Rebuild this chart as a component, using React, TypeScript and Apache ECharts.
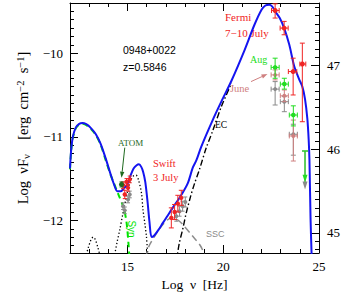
import React, { useEffect, useRef } from "react";
import * as echarts from "echarts";

// ---- axis ticks ----
const xTickLabels = [15, 20, 25];
const xMajorTicks = [15, 20];
const xMinorTicks = [13, 14, 16, 17, 18, 19, 21, 22, 23, 24];
const yLeftMajor = [-12, -11, -10];
const yRightMajor = [45, 46, 47];
const X_MIN = 12, X_MAX = 25;
const Y_MIN = -12.39, Y_MAX = -9.40;
const LUM_OFFSET = 57.15;

// ---- model curves [log nu, log nuFnu] ----
const totalModel = [
  [12.0, -11.38], [12.06, -11.16], [12.15, -11.0], [12.3, -10.89], [12.48, -10.845], [12.65, -10.835],
  [12.85, -10.85], [13.07, -10.89], [13.35, -10.97], [13.59, -11.08], [13.85, -11.25], [14.11, -11.44], [14.3, -11.57],
  [14.47, -11.65], [14.65, -11.65], [14.85, -11.61], [14.99, -11.57], [15.15, -11.47], [15.32, -11.38],
  [15.48, -11.34], [15.6, -11.33], [15.72, -11.36], [15.82, -11.42], [15.93, -11.54], [16.05, -11.78],
  [16.15, -12.02], [16.26, -12.2], [16.4, -12.18], [16.6, -12.12], [16.85, -12.03], [17.05, -11.96],
  [17.36, -11.85], [17.72, -11.73], [18.14, -11.56], [18.41, -11.37], [18.6, -11.28], [18.85, -11.12],
  [19.45, -10.8], [19.9, -10.58], [20.43, -10.33], [21.12, -9.96], [21.63, -9.66], [22.0, -9.48],
  [22.2, -9.43], [22.4, -9.42], [22.55, -9.44], [22.71, -9.5], [22.95, -9.58], [23.18, -9.7],
  [23.45, -9.9], [23.7, -10.15], [23.96, -10.31], [24.13, -10.4], [24.27, -10.55], [24.39, -10.78],
  [24.46, -11.03], [24.5, -11.27], [24.56, -11.99], [24.62, -12.45],
];
const synModel = [
  [12.0, -11.39], [12.06, -11.17], [12.15, -11.01], [12.3, -10.9], [12.48, -10.855], [12.65, -10.845],
  [12.85, -10.86], [13.07, -10.9], [13.35, -10.98], [13.59, -11.09], [13.85, -11.27], [14.11, -11.45], [14.3, -11.56],
  [14.51, -11.68], [14.8, -11.85], [14.95, -12.02], [15.06, -12.3], [15.12, -12.5],
];
const torusModel = [
  [12.8, -12.45], [12.95, -12.33], [13.1, -12.23], [13.21, -12.2], [13.32, -12.23], [13.45, -12.32], [13.6, -12.45],
];
const diskModel = [
  [14.3, -12.45], [14.45, -12.27], [14.6, -12.11], [14.77, -11.91], [14.95, -11.71], [15.12, -11.55],
  [15.3, -11.47], [15.45, -11.46], [15.58, -11.52], [15.73, -11.67], [15.81, -11.87], [15.92, -12.06],
  [15.99, -12.19], [16.07, -12.45],
];
const sscModel = [
  [15.95, -12.45], [16.1, -12.32], [16.42, -12.19], [16.85, -12.05], [17.29, -11.97], [17.6, -11.99],
  [17.89, -12.05], [18.41, -12.19], [18.8, -12.3], [19.05, -12.42],
];
const ecModel = [
  [17.55, -12.5], [17.7, -12.28], [17.89, -12.1], [18.07, -11.91], [18.3, -11.71], [18.5, -11.56],
  [18.76, -11.39], [19.1, -11.14], [19.45, -10.93], [19.9, -10.64], [20.43, -10.36],
];

// ---- data points: [x, y, xLo, xHi, yLo, yHi] ----
const fermiJuly = [
  [22.71, -9.49, 22.52, 22.92, -9.58, -9.41],
  [23.18, -9.7, 22.97, 23.39, -9.78, -9.62],
  [23.65, -10.22, 23.4, 23.84, -10.5, -10.06],
  [24.13, -10.13, 24.0, 24.31, -10.82, -9.88],
];
const fermiAug = [
  [22.71, -10.17, 22.5, 22.92, -10.3, -10.06],
  [23.19, -10.37, 22.98, 23.4, -10.43, -10.3],
  [23.66, -10.74, 23.45, 23.87, -10.87, -10.63],
];
const fermiJune = [
  [22.71, -10.26, 22.5, 22.92, -10.32, -10.2],
  [23.19, -10.51, 22.98, 23.4, -10.58, -10.44],
  [23.66, -10.99, 23.45, 23.87, -11.29, -10.8],
];
const fermiGrey = [
  [22.71, -10.43, 22.5, 22.92, -10.62, -10.34],
  [23.19, -10.58, 22.98, 23.4, -10.7, -10.52],
  [23.66, -10.97, 23.45, 23.87, -11.22, -10.85],
];
const uvotJuly = [
  [14.77, -11.58, 14.77, 14.77, -11.62, -11.54],
  [14.95, -11.54, 14.95, 14.95, -11.58, -11.5],
  [15.12, -11.51, 15.12, 15.12, -11.55, -11.47],
  [14.86, -11.69, 14.86, 14.86, -11.74, -11.64],
  [15.03, -11.61, 15.03, 15.03, -11.65, -11.57],
];
const uvotGrey = [
  [15.12, -11.69, 15.12, 15.12, -11.73, -11.65],
  [15.03, -11.75, 15.03, 15.03, -11.79, -11.71],
  [14.77, -11.83, 14.77, 14.77, -11.87, -11.79],
  [14.86, -11.88, 14.86, 14.86, -11.92, -11.84],
];
const atomPoint = [[14.69, -11.57, 14.69, 14.69, -11.6, -11.54]];
const xrtJuly = [
  [17.29, -11.97, 17.29, 17.29, -12.09, -11.85],
  [17.46, -11.9, 17.46, 17.46, -11.99, -11.81],
  [17.63, -11.8, 17.63, 17.63, -11.9, -11.7],
  [17.81, -11.73, 17.81, 17.81, -11.82, -11.64],
];
const xrtGrey = [
  [17.55, -11.95, 17.55, 17.55, -12.01, -11.89],
  [17.72, -11.89, 17.72, 17.72, -11.95, -11.83],
  [17.88, -11.83, 17.88, 17.88, -11.89, -11.77],
  [18.02, -11.78, 18.02, 18.02, -11.84, -11.72],
];
// upper limits: [x, yTop, yArrowTip]
const augUpper = [[24.27, -11.17, -11.55]];
const greyUpper = [[24.27, -11.17, -11.63]];
// annotation arrows: [x1, y1, x2, y2]
const atomArrow = [[14.86, -11.13, 14.69, -11.49]];
const juneArrow = [[21.45, -10.34, 22.31, -10.25]];

const RED = "#f02424";
const GREEN = "#22dd22";
const PINK = "#cf8080";
const GREY = "#8a8a8a";
const DKGREEN = "#1f6a1f";
const SERIF = "'Liberation Serif', 'DejaVu Serif', serif";
const SANS = "'Liberation Sans', Arial, sans-serif";
const NB = "\u00a0";

function errSeries(name: string, data: number[][], color: string, r: number, cap: number, z: number) {
  return {
    type: "custom",
    name,
    z,
    data,
    dimensions: ["x", "y", "xl", "xh", "yl", "yh"],
    encode: { x: 0, y: 1 },
    renderItem: (_p: any, api: any) => {
      const x = api.value(0), y = api.value(1);
      const c = api.coord([x, y]);
      const pl = api.coord([api.value(2), y]);
      const ph = api.coord([api.value(3), y]);
      const pb = api.coord([x, api.value(4)]);
      const pt = api.coord([x, api.value(5)]);
      const st = { stroke: color, lineWidth: 1 };
      const ch: any[] = [];
      if (Math.abs(ph[0] - pl[0]) > 0.5) {
        ch.push({ type: "line", shape: { x1: pl[0], y1: c[1], x2: ph[0], y2: c[1] }, style: st });
        ch.push({ type: "line", shape: { x1: pl[0], y1: c[1] - cap, x2: pl[0], y2: c[1] + cap }, style: st });
        ch.push({ type: "line", shape: { x1: ph[0], y1: c[1] - cap, x2: ph[0], y2: c[1] + cap }, style: st });
      }
      if (Math.abs(pb[1] - pt[1]) > 0.5) {
        ch.push({ type: "line", shape: { x1: c[0], y1: pt[1], x2: c[0], y2: pb[1] }, style: st });
        ch.push({ type: "line", shape: { x1: c[0] - cap, y1: pt[1], x2: c[0] + cap, y2: pt[1] }, style: st });
        ch.push({ type: "line", shape: { x1: c[0] - cap, y1: pb[1], x2: c[0] + cap, y2: pb[1] }, style: st });
      }
      ch.push({ type: "circle", shape: { cx: c[0], cy: c[1], r }, style: { fill: color } });
      return { type: "group", children: ch };
    },
  };
}

function upperSeries(name: string, data: number[][], color: string, z: number) {
  return {
    type: "custom",
    name,
    z,
    data,
    dimensions: ["x", "y", "y2"],
    encode: { x: 0, y: 1 },
    renderItem: (_p: any, api: any) => {
      const x = api.value(0);
      const a = api.coord([x, api.value(1)]);
      const b = api.coord([x, api.value(2)]);
      const st = { stroke: color, lineWidth: 1.2 };
      return {
        type: "group",
        children: [
          { type: "line", shape: { x1: a[0] - 3, y1: a[1], x2: a[0] + 3, y2: a[1] }, style: st },
          { type: "line", shape: { x1: a[0], y1: a[1], x2: b[0], y2: b[1] - 4 }, style: st },
          { type: "polygon", shape: { points: [[b[0] - 2.5, b[1] - 8], [b[0] + 2.5, b[1] - 8], [b[0], b[1]]] }, style: { fill: color } },
        ],
      };
    },
  };
}

function arrowSeries(name: string, data: number[][], color: string, z: number) {
  return {
    type: "custom",
    name,
    z,
    data,
    dimensions: ["x1", "y1", "x2", "y2"],
    encode: { x: 0, y: 1 },
    renderItem: (_p: any, api: any) => {
      const a = api.coord([api.value(0), api.value(1)]);
      const b = api.coord([api.value(2), api.value(3)]);
      const dx = b[0] - a[0], dy = b[1] - a[1];
      const len = Math.sqrt(dx * dx + dy * dy) || 1;
      const ux = dx / len, uy = dy / len;
      const hl = 6, hw = 2.2;
      const bx = b[0] - ux * hl, by = b[1] - uy * hl;
      return {
        type: "group",
        children: [
          { type: "line", shape: { x1: a[0], y1: a[1], x2: bx, y2: by }, style: { stroke: color, lineWidth: 1 } },
          {
            type: "polygon",
            shape: { points: [[b[0], b[1]], [bx - uy * hw, by + ux * hw], [bx + uy * hw, by - ux * hw]] },
            style: { fill: color },
          },
        ],
      };
    },
  };
}

function lineSeries(name: string, data: number[][], color: string, width: number, type: any, z: number) {
  return {
    type: "line",
    name,
    data,
    z,
    showSymbol: false,
    symbol: "none",
    smooth: 0.3,
    clip: true,
    lineStyle: { color, width, type },
    silent: true,
  };
}

const tenths = (lo: number, hi: number) => {
  const out: number[] = [];
  for (let i = Math.ceil(lo * 10 + 1e-6); i <= Math.floor(hi * 10 - 1e-6); i++) out.push(Math.round(i) / 10);
  return out;
};

const fmtNum = (v: number) => (v < 0 ? "\u2212" + Math.abs(v) : String(v));

function text(t: string, x: number, y: number, color: string, size: number, family: string, extra: any = {}) {
  return {
    type: "text",
    x,
    y,
    ...extra,
    style: {
      text: t,
      fill: color,
      fontSize: size,
      fontFamily: family,
      align: extra.align || "left",
      textAlign: extra.align || "left",
      verticalAlign: "middle",
      textVerticalAlign: "middle",
    },
  };
}

export default function App() {
  const ref = useRef<HTMLDivElement>(null);
  useEffect(() => {
    if (!ref.current) return;
    const chart = echarts.init(ref.current, undefined, { renderer: "svg" });
    const axisLine = { show: true, lineStyle: { color: "#000", width: 1 } };
    const tickStyle = { color: "#000", width: 1 };
    const labelStyle = { fontFamily: SERIF, fontSize: 13, color: "#000" };
    const leftMinor = tenths(Y_MIN, Y_MAX);
    const rightMinor = tenths(Y_MIN + LUM_OFFSET, Y_MAX + LUM_OFFSET);
    const option: any = {
      animation: false,
      grid: { left: 70, right: 23, top: 3, bottom: 44 },
      xAxis: [
        {
          type: "value", position: "bottom", min: X_MIN, max: X_MAX,
          axisLine, splitLine: { show: false },
          axisTick: { show: true, inside: true, length: 4, customValues: xMinorTicks, lineStyle: tickStyle },
          axisLabel: { ...labelStyle, customValues: xTickLabels, margin: 7, formatter: fmtNum },
          name: `Log${NB}${NB}\u03bd${NB}${NB}[Hz]`, nameLocation: "middle", nameGap: 22,
          nameTextStyle: { fontFamily: SERIF, fontSize: 13.5, color: "#000" },
        },
        {
          type: "value", position: "bottom", min: X_MIN, max: X_MAX,
          axisLine: { show: false }, splitLine: { show: false }, axisLabel: { show: false },
          axisTick: { show: true, inside: true, length: 8, customValues: xMajorTicks, lineStyle: tickStyle },
        },
        {
          type: "value", position: "top", min: X_MIN, max: X_MAX,
          axisLine, splitLine: { show: false }, axisLabel: { show: false },
          axisTick: { show: true, inside: true, length: 4, customValues: xMinorTicks, lineStyle: tickStyle },
        },
        {
          type: "value", position: "top", min: X_MIN, max: X_MAX,
          axisLine: { show: false }, splitLine: { show: false }, axisLabel: { show: false },
          axisTick: { show: true, inside: true, length: 8, customValues: xMajorTicks, lineStyle: tickStyle },
        },
      ],
      yAxis: [
        {
          type: "value", position: "left", min: Y_MIN, max: Y_MAX,
          axisLine, splitLine: { show: false },
          axisTick: { show: true, inside: true, length: 4, customValues: leftMinor, lineStyle: tickStyle },
          axisLabel: { ...labelStyle, customValues: yLeftMajor, margin: 7, formatter: fmtNum },
          name: `Log${NB}${NB}\u03bdF{sub|\u03bd}${NB}${NB}${NB}${NB}[erg${NB}${NB}cm{sup|\u22122}${NB}${NB}s{sup|\u22121}]`,
          nameLocation: "middle", nameGap: 33,
          nameTextStyle: {
            fontFamily: SERIF, fontSize: 14.5, color: "#000", lineHeight: 17,
            rich: {
              sub: { fontFamily: SERIF, fontSize: 10.5, color: "#000", verticalAlign: "bottom", lineHeight: 11 },
              sup: { fontFamily: SERIF, fontSize: 10.5, color: "#000", verticalAlign: "top", lineHeight: 11 },
            },
          },
        },
        {
          type: "value", position: "left", min: Y_MIN, max: Y_MAX,
          axisLine: { show: false }, splitLine: { show: false }, axisLabel: { show: false },
          axisTick: { show: true, inside: true, length: 8, customValues: yLeftMajor, lineStyle: tickStyle },
        },
        {
          type: "value", position: "right", min: Y_MIN + LUM_OFFSET, max: Y_MAX + LUM_OFFSET,
          axisLine, splitLine: { show: false },
          axisTick: { show: true, inside: true, length: 4, customValues: rightMinor, lineStyle: tickStyle },
          axisLabel: { ...labelStyle, customValues: yRightMajor, margin: 8 },
        },
        {
          type: "value", position: "right", min: Y_MIN + LUM_OFFSET, max: Y_MAX + LUM_OFFSET,
          axisLine: { show: false }, splitLine: { show: false }, axisLabel: { show: false },
          axisTick: { show: true, inside: true, length: 8, customValues: yRightMajor, lineStyle: tickStyle },
        },
      ],
      series: [
        lineSeries("torus", torusModel, "#000", 1.3, [1.3, 2.2], 2),
        lineSeries("disk", diskModel, "#000", 1.3, [1.3, 2.2], 2),
        lineSeries("SSC", sscModel, "#8c8c8c", 1.5, [7, 4], 2),
        lineSeries("EC", ecModel, "#000", 1.4, [6, 2.5, 1.5, 2.5], 2),
        lineSeries("Syn", synModel, "#00e400", 2, [6, 4], 3),
        lineSeries("total", totalModel, "#1414f0", 2, "solid", 4),
        errSeries("grey", fermiGrey, GREY, 2, 2.5, 5),
        errSeries("June", fermiJune, PINK, 2, 2.5, 6),
        errSeries("Aug", fermiAug, GREEN, 2.3, 2.5, 7),
        errSeries("Fermi", fermiJuly, RED, 2.5, 2.5, 8),
        upperSeries("greyUL", greyUpper, GREY, 6),
        upperSeries("augUL", augUpper, GREEN, 7),
        errSeries("uvotGrey", uvotGrey, GREY, 2, 2, 5),
        errSeries("xrtGrey", xrtGrey, GREY, 2, 2, 5),
        errSeries("uvot", uvotJuly, RED, 2.2, 2, 8),
        errSeries("xrt", xrtJuly, RED, 2.2, 2.5, 8),
        errSeries("ATOM", atomPoint, DKGREEN, 2.5, 2, 9),
        arrowSeries("atomArrow", atomArrow, DKGREEN, 9),
        arrowSeries("juneArrow", juneArrow, PINK, 9),
      ],
      graphic: [
        text("0948+0022", 123, 50, "#000", 10.5, SANS),
        text("z=0.5846", 123, 67, "#000", 10.5, SANS),
        text("Fermi", 225, 17, RED, 11, SERIF),
        text("7\u221210 July", 225, 33, RED, 11, SERIF),
        text("Aug", 250, 59, GREEN, 10, SERIF),
        text("June", 230, 88, PINK, 10.5, SERIF),
        text("EC", 215, 125, "#000", 9.5, SERIF),
        text("ATOM", 118, 143, DKGREEN, 9, SERIF),
        text("Swift", 153, 163, RED, 10.5, SERIF),
        text("3 July", 153, 177, RED, 10.5, SERIF),
        text("SSC", 206, 234, GREY, 9, SANS),
        text("Syn", 131, 229, "#00e400", 10, SANS, { rotation: -Math.PI / 2, align: "center" }),
      ],
    };
    chart.setOption(option);
    return () => chart.dispose();
  }, []);
  return <div ref={ref} style={{ position: "absolute", left: 0, top: 0, width: 343, height: 297 }} />;
}
